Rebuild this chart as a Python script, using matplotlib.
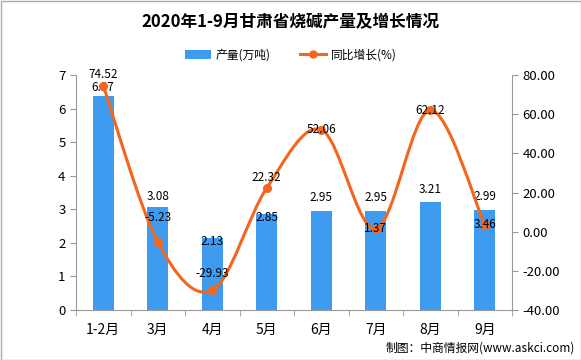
import matplotlib
matplotlib.use("Agg")
import matplotlib.pyplot as plt
from matplotlib.path import Path
from matplotlib.patches import PathPatch, Patch, Rectangle
from matplotlib.lines import Line2D
import numpy as np

plt.rcParams['font.family'] = ['Noto Sans CJK SC', 'DejaVu Sans']

categories = ['1-2月', '3月', '4月', '5月', '6月', '7月', '8月', '9月']
output = [6.37, 3.08, 2.13, 2.85, 2.95, 2.95, 3.21, 2.99]
growth = [74.52, -5.23, -29.93, 22.32, 52.06, 1.37, 62.12, 3.46]
left_ticks = [0, 1, 2, 3, 4, 5, 6, 7]
right_ticks = [-40, -20, 0, 20, 40, 60, 80]

# label vertical offsets in pixels (style, not data)
bar_label_dy = [9, 10, -3, -3, 13, 13, 13, 13]
line_label_dy = [11, 24, 17, 10, 0, 0, 0, 0]

bar_color = '#3f9bef'
line_color = '#f4661e'

fig = plt.figure(figsize=(5.81, 3.6), dpi=100)
ax = fig.add_axes([76/581, 50/360, (512-76)/581, 235/360])
ax2 = ax.twinx()

x = np.arange(len(categories))
ax.bar(x, output, width=0.38, color=bar_color, zorder=2)
ax.set_xlim(-0.5, len(categories) - 0.5)
ax.set_ylim(0, 7)
ax.set_yticks(left_ticks)
ax.set_xticks(x)
ax.set_xticklabels(categories, fontsize=10)
ax.set_xticks(np.arange(len(categories) + 1) - 0.5, minor=True)
ax.tick_params(axis='x', which='major', length=0, pad=9)
ax.tick_params(axis='x', which='minor', length=4, color='#999999')
ax.tick_params(axis='y', length=4, color='#999999', labelsize=9.5)
for s in ['top', 'right']:
    ax.spines[s].set_visible(False)
for s in ['left', 'bottom']:
    ax.spines[s].set_color('#999999')

for xi, v, dy in zip(x, output, bar_label_dy):
    ax.annotate(f'{v:.2f}', (xi, v), xytext=(0, dy), textcoords='offset pixels',
                ha='center', va='center', fontsize=8.5, zorder=5)

ax2.set_ylim(-40, 80)
ax2.set_yticks(right_ticks)
ax2.set_yticklabels([f'{t:.2f}' for t in right_ticks], fontsize=9.5)
ax2.tick_params(axis='y', length=4, color='#999999')
for s in ['top', 'left', 'bottom']:
    ax2.spines[s].set_visible(False)
ax2.spines['right'].set_color('#999999')

# smooth Bezier line (Excel-style) through the data points
pts = np.column_stack([x, growth]).astype(float)
verts = [tuple(pts[0])]
codes = [Path.MOVETO]
n = len(pts)
for i in range(n - 1):
    p0 = pts[i - 1] if i > 0 else pts[i]
    p1 = pts[i]
    p2 = pts[i + 1]
    p3 = pts[i + 2] if i + 2 < n else pts[i + 1]
    c1 = p1 + (p2 - p0) / 6.0
    c2 = p2 - (p3 - p1) / 6.0
    verts += [tuple(c1), tuple(c2), tuple(p2)]
    codes += [Path.CURVE4] * 3
path = Path(verts, codes)
ax2.add_patch(PathPatch(path, facecolor='none', edgecolor=line_color, lw=2.2, zorder=3))
ax2.plot(x, growth, 'o', color=line_color, markersize=5.5, zorder=4)
for xi, v, dy in zip(x, growth, line_label_dy):
    ax2.annotate(f'{v:.2f}', (xi, v), xytext=(0, dy), textcoords='offset pixels',
                 ha='center', va='center', fontsize=8.5, zorder=5)

fig.text(0.5, 1 - 22/360, '2020年1-9月甘肃省烧碱产量及增长情况', ha='center', va='center',
         fontsize=12, fontweight='bold')

handles = [Patch(facecolor=bar_color, label='产量(万吨)'),
           Line2D([0], [0], color=line_color, lw=2.2, marker='o', markersize=5, label='同比增长(%)')]
fig.legend(handles=handles, loc='center', bbox_to_anchor=(0.5, 1 - 55/360), ncol=2,
           frameon=False, fontsize=8.5, handlelength=2.2, columnspacing=2.5, handletextpad=0.4)

fig.text(1 - 6/581, 1 - 348/360, '制图：中商情报网(www.askci.com)', ha='right', va='center', fontsize=8.5)

fig.patches.append(Rectangle((0.5/581, 0.5/360), 1 - 1/581, 1 - 1/360, transform=fig.transFigure,
                             fill=False, edgecolor='#aaaaaa', lw=1))

fig.savefig('out.png', dpi=100)
